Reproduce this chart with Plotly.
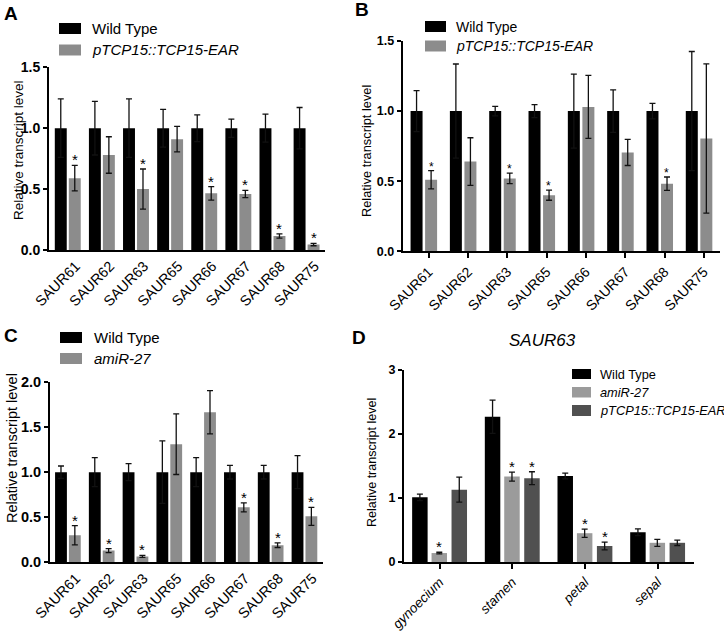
import plotly.graph_objects as go

W, H = 724, 632
FONT = "Liberation Sans, Arial, sans-serif"

BLACK = "#000000"
GRAY = "#8c8c8c"
LIGHT = "#9b9b9b"
DARK = "#505050"

# ---- data ----
genes = ["SAUR61", "SAUR62", "SAUR63", "SAUR65", "SAUR66", "SAUR67", "SAUR68", "SAUR75"]

# A: wild type vs pTCP15::TCP15-EAR (seedlings)
a_wt = [1, 1, 1, 1, 1, 1, 1, 1]
a_wt_err = [0.24, 0.22, 0.24, 0.155, 0.11, 0.075, 0.115, 0.17]
a_ear = [0.59, 0.78, 0.50, 0.91, 0.465, 0.46, 0.115, 0.045]
a_ear_err = [0.105, 0.15, 0.165, 0.105, 0.055, 0.03, 0.018, 0.01]
a_sig = [1, 0, 1, 0, 1, 1, 1, 1]

# B: wild type vs pTCP15::TCP15-EAR (inflorescences)
b_wt = [1, 1, 1, 1, 1, 1, 1, 1]
b_wt_err = [0.146, 0.336, 0.034, 0.046, 0.264, 0.152, 0.055, 0.425]
b_ear = [0.51, 0.64, 0.52, 0.40, 1.03, 0.705, 0.482, 0.805]
b_ear_err = [0.065, 0.17, 0.037, 0.036, 0.225, 0.093, 0.048, 0.532]
b_sig = [1, 0, 1, 1, 0, 0, 1, 0]

# C: wild type vs amiR-27
c_wt = [1, 1, 1, 1, 1, 1, 1, 1]
c_wt_err = [0.068, 0.161, 0.094, 0.346, 0.161, 0.076, 0.076, 0.183]
c_ami = [0.30, 0.13, 0.065, 1.31, 1.665, 0.61, 0.19, 0.51]
c_ami_err = [0.107, 0.022, 0.011, 0.336, 0.24, 0.05, 0.026, 0.10]
c_sig = [1, 1, 1, 0, 0, 1, 1, 1]

# D: SAUR63 in floral organs
organs = ["gynoecium", "stamen", "petal", "sepal"]
d_wt = [1.01, 2.27, 1.345, 0.465]
d_wt_err = [0.052, 0.26, 0.045, 0.052]
d_ami = [0.14, 1.335, 0.45, 0.30]
d_ami_err = [0.012, 0.07, 0.065, 0.055]
d_ear = [1.13, 1.31, 0.25, 0.30]
d_ear_err = [0.195, 0.10, 0.06, 0.042]
d_ami_sig = [1, 1, 1, 0]
d_ear_sig = [0, 1, 1, 0]


def px(x):
    return x / W


def py(y):
    return 1 - y / H


fig = go.Figure()
shapes = []
notes = []


def add_bars(xa, ya, cats, vals, errs, color, offset, width):
    fig.add_trace(go.Bar(
        x=list(range(len(cats))), y=vals, xaxis=xa, yaxis=ya,
        offset=offset, width=width,
        marker=dict(color=color, line=dict(width=0)),
        error_y=dict(type="data", array=errs, color="#111111",
                     thickness=1.3, width=3),
        showlegend=False, hoverinfo="skip",
    ))


def add_stars(xa, ya, vals, errs, sig, dx, size):
    for i, (v, e, s) in enumerate(zip(vals, errs, sig)):
        if s:
            notes.append(dict(
                x=i + dx, y=v + e, xref=xa, yref=ya, text="*",
                showarrow=False, yanchor="bottom", yshift=-5,
                font=dict(family=FONT, size=size, color="black"),
            ))


def add_legend(x0, x1, rows, text_x, size):
    # rows: (top, bottom, color, label, italic)
    for top, bottom, color, label, italic in rows:
        shapes.append(dict(type="rect", xref="paper", yref="paper",
                           x0=px(x0), x1=px(x1), y0=py(bottom), y1=py(top),
                           fillcolor=color, line=dict(width=0)))
        notes.append(dict(
            x=px(text_x), y=py((top + bottom) / 2), xref="paper", yref="paper",
            text=label, showarrow=False, xanchor="left", yanchor="middle",
            font=dict(family=FONT, size=size, color="black",
                      style="italic" if italic else "normal"),
        ))


def ytitle(x, y, size):
    notes.append(dict(
        x=px(x), y=py(y), xref="paper", yref="paper",
        text="Relative transcript level", textangle=-90, showarrow=False,
        xanchor="center", yanchor="middle",
        font=dict(family=FONT, size=size, color="black"),
    ))


def letter(x, y, t):
    notes.append(dict(
        x=px(x), y=py(y), xref="paper", yref="paper", text="<b>%s</b>" % t,
        showarrow=False, xanchor="left", yanchor="middle",
        font=dict(family=FONT, size=19, color="black"),
    ))


def axes(n, xdom, ydom, xrange, yrange, ytickvals, yticktext, cats, tick_dx,
         ytick_size, xtick_size, xticks, xitalic=False):
    xa = dict(
        domain=[px(xdom[0]), px(xdom[1])], anchor="y%s" % n if n > 1 else "y",
        range=xrange, tickangle=-45, automargin=False,
        tickvals=[i + tick_dx for i in range(len(cats))], ticktext=cats,
        showline=True, linewidth=2, linecolor="black",
        ticks="outside" if xticks else "", ticklen=5, tickwidth=1.5,
        tickcolor="black", showgrid=False, zeroline=False,
        tickfont=dict(family=FONT, size=xtick_size, color="black",
                      style="italic" if xitalic else "normal"),
    )
    ya = dict(
        domain=[py(ydom[1]), py(ydom[0])], anchor="x%s" % n if n > 1 else "x",
        range=yrange, tickvals=ytickvals, ticktext=yticktext, automargin=False,
        showline=True, linewidth=2, linecolor="black",
        ticks="outside", ticklen=4, tickwidth=2, tickcolor="black",
        showgrid=False, zeroline=False,
        tickfont=dict(family=FONT, size=ytick_size, color="black", weight="bold"),
    )
    key = "" if n == 1 else str(n)
    fig.update_layout(**{"xaxis" + key: xa, "yaxis" + key: ya})


# ---- panel A ----
axes(1, (49, 325), (67.3, 250), [-0.55, 7.54], [0, 1.5],
     [0, 0.5, 1, 1.5], ["0.0", "0.5", "1.0", "1.5"], genes, 0.24, 14, 14.5, False)
add_bars("x", "y", genes, a_wt, a_wt_err, BLACK, -0.38, 0.35)
add_bars("x", "y", genes, a_ear, a_ear_err, GRAY, 0.03, 0.35)
add_stars("x", "y", a_ear, a_ear_err, a_sig, 0.205, 15)
add_legend(59, 81, [(23, 34, BLACK, "Wild Type", False),
                    (44.5, 55.5, GRAY, "pTCP15::TCP15-EAR", True)], 90, 15)
ytitle(19, 150, 13.5)
letter(2, 13, "A")

# ---- panel B ----
axes(2, (402.7, 720), (41, 251.3), [-0.54, 7.53], [0, 1.5],
     [0, 0.5, 1, 1.5], ["0.0", "0.5", "1.0", "1.5"], genes, 0.12, 12.5, 14, True)
add_bars("x2", "y2", genes, b_wt, b_wt_err, BLACK, -0.34, 0.305)
add_bars("x2", "y2", genes, b_ear, b_ear_err, GRAY, 0.03, 0.305)
add_stars("x2", "y2", b_ear, b_ear_err, b_sig, 0.18, 12)
add_legend(425, 446, [(21, 32, BLACK, "Wild Type", False),
                      (40.5, 51.5, GRAY, "pTCP15::TCP15-EAR", True)], 454, 14)
ytitle(367, 151, 12.8)
letter(353, 10, "B")

# ---- panel C ----
axes(3, (50, 322.7), (382, 562.3), [-0.53, 7.54], [0, 2.0],
     [0, 0.5, 1, 1.5, 2], ["0.0", "0.5", "1.0", "1.5", "2.0"], genes, 0.24,
     14.5, 14.5, False)
add_bars("x3", "y3", genes, c_wt, c_wt_err, BLACK, -0.38, 0.35)
add_bars("x3", "y3", genes, c_ami, c_ami_err, GRAY, 0.03, 0.35)
add_stars("x3", "y3", c_ami, c_ami_err, c_sig, 0.205, 15)
add_legend(60, 82, [(332, 343, BLACK, "Wild Type", False),
                    (353, 364, GRAY, "amiR-27", True)], 92, 15)
ytitle(12, 448, 14.5)
letter(2, 336, "C")

# ---- panel D ----
axes(4, (404, 694), (370, 562), [-0.49, 3.5], [0, 3],
     [0, 1, 2, 3], ["0", "1", "2", "3"], organs, 0, 12.5, 13.5, True, xitalic=True)
add_bars("x4", "y4", organs, d_wt, d_wt_err, BLACK, -0.378, 0.213)
add_bars("x4", "y4", organs, d_ami, d_ami_err, LIGHT, -0.111, 0.213)
add_bars("x4", "y4", organs, d_ear, d_ear_err, DARK, 0.164, 0.213)
add_stars("x4", "y4", d_ami, d_ami_err, d_ami_sig, -0.004, 15)
add_stars("x4", "y4", d_ear, d_ear_err, d_ear_sig, 0.27, 15)
add_legend(572, 591, [(369, 379, BLACK, "Wild Type", False),
                      (387, 397.5, LIGHT, "amiR-27", True),
                      (405, 416, DARK, "pTCP15::TCP15-EAR", True)], 598, 12.8)
ytitle(372, 463, 12.5)
letter(350, 337, "D")
notes.append(dict(
    x=px(542), y=py(340), xref="paper", yref="paper", text="SAUR63",
    showarrow=False, xanchor="center", yanchor="middle",
    font=dict(family=FONT, size=17, color="black", style="italic"),
))

fig.update_layout(
    template="none",
    width=W, height=H,
    margin=dict(l=0, r=0, t=0, b=0, pad=0),
    paper_bgcolor="white", plot_bgcolor="white",
    barmode="overlay", showlegend=False,
    shapes=shapes, annotations=notes,
    font=dict(family=FONT, color="black"),
)

# the page's default body margin would push the figure off the window
fig.write_html("out.html", config={"displayModeBar": False},
               post_script="document.body.style.margin='0';"
                           "document.body.style.overflow='hidden';")
